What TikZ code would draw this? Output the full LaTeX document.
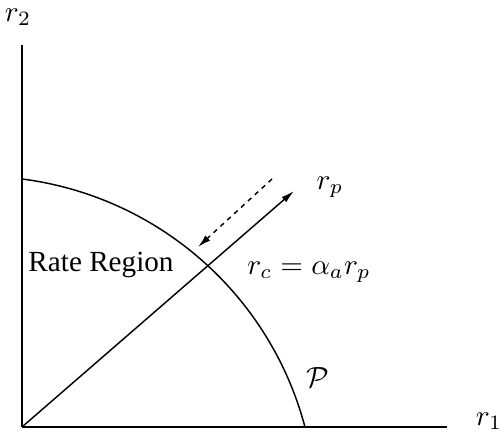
\documentclass[tikz,border=0pt]{standalone}
\usepackage{fontspec}
\setmainfont{Liberation Serif}
\usetikzlibrary{arrows.meta, positioning}

\begin{document}
\begin{tikzpicture}[
  x=0.3427pt, y=0.3427pt,
  every node/.style={align=center, inner sep=0pt},
  axis/.style={line width=0.5pt},
  arrow/.style={-{Latex[length=4.5pt, width=2.4pt]}, line width=0.5pt},
  dasharrow/.style={arrow, dash pattern=on 1.6pt off 1.6pt},
]
  \useasboundingbox (-22,-5) rectangle (479,427);

  \coordinate (orig) at (0,0);
  \coordinate (ytop) at (0,382);
  \coordinate (xend) at (425,0);
  \coordinate (ptip) at (272,236);
  \coordinate (dstart) at (250,248);
  \coordinate (dtip) at (176,180);

  % axes
  \draw[axis] (orig) -- (ytop);
  \draw[axis] (orig) -- (xend);
  \node (r2) at (-4,410) {$r_2$};
  \node (r1) at (467,6) {$r_1$};

  % boundary of the region
  \draw[axis] (0,248) arc[start angle=82.7, end angle=14.94, radius=337];
  \node (region) at (79,162) {Rate Region};
  \node (bnd) at (296,49) {$\mathcal{P}$};

  % rate line
  \draw[arrow] (orig) -- (ptip);
  \draw[dasharrow] (dstart) -- (dtip);
  \node (rp) at (308,240) {$r_p$};
  \node (rc) at (287,155) {$r_c = \alpha_a r_p$};
\end{tikzpicture}
\end{document}
